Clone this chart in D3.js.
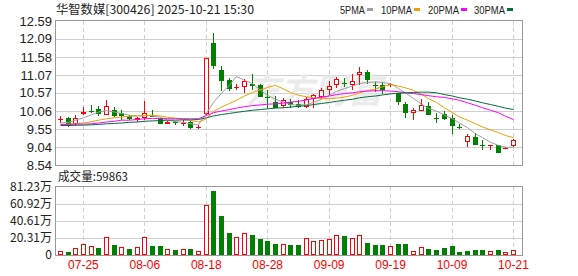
<!DOCTYPE html>
<html>
<head>
<meta charset="utf-8">
<script src="https://cdn.jsdelivr.net/npm/d3@7"></script>
<style>
  body { margin: 0; background: #fff; }
  svg { display: block; }
</style>
</head>
<body>
<div id="chart"></div>
<script>
// trading days shown (MM-DD)
var dates = ["07-22","07-23","07-24","07-25","07-28","07-29","07-30","07-31","08-01","08-04",
  "08-05","08-06","08-07","08-08","08-11","08-12","08-13","08-14","08-15","08-18",
  "08-19","08-20","08-21","08-22","08-25","08-26","08-27","08-28","08-29","09-01",
  "09-02","09-03","09-04","09-05","09-08","09-09","09-10","09-11","09-12","09-15",
  "09-16","09-17","09-18","09-19","09-22","09-23","09-24","09-25","09-26","09-29",
  "09-30","10-09","10-10","10-13","10-14","10-15","10-16","10-17","10-20","10-21"];

var opens = [9.80,9.85,9.68,9.98,10.07,10.11,9.96,10.10,10.00,9.91,
  9.80,9.86,9.93,9.84,9.70,9.75,9.72,9.74,9.60,9.98,
  11.96,11.21,10.93,10.72,10.72,10.81,10.78,10.44,10.31,10.20,
  10.31,10.25,10.17,10.39,10.45,10.66,10.78,10.84,10.78,11.07,
  11.16,10.80,10.80,10.80,10.57,10.25,10.01,10.06,10.19,9.87,
  9.98,9.87,9.60,9.18,9.34,9.10,9.08,9.09,9.01,9.07];

var highs = [9.91,9.88,9.94,10.17,10.22,10.19,10.36,10.17,10.08,9.95,
  9.88,10.34,10.08,9.87,9.77,9.79,9.80,9.78,9.66,11.54,
  12.24,11.33,10.99,10.82,10.97,11.09,10.82,10.64,10.47,10.43,
  10.40,10.38,10.45,10.55,10.70,10.90,11.01,11.00,11.09,11.30,
  11.22,10.88,10.88,10.86,10.57,10.31,10.15,10.39,10.31,10.00,
  10.05,9.94,9.69,9.40,9.45,9.25,9.11,9.09,9.04,9.28];

var lows = [9.73,9.60,9.65,9.94,10.00,9.92,9.94,9.89,9.80,9.80,
  9.74,9.80,9.89,9.68,9.68,9.66,9.64,9.56,9.55,9.95,
  11.25,10.62,10.63,10.66,10.57,10.64,10.45,10.13,10.13,10.13,
  10.13,10.13,10.13,10.14,10.39,10.52,10.70,10.72,10.64,10.78,
  10.83,10.60,10.55,10.74,10.22,9.86,9.80,10.06,9.94,9.72,
  9.80,9.40,9.54,9.04,9.09,8.97,8.96,8.88,8.99,9.04];

var closes = [9.82,9.65,9.87,10.03,10.05,9.97,10.19,9.91,9.93,9.83,
  9.87,10.01,9.90,9.70,9.75,9.71,9.73,9.59,9.62,11.54,
  11.33,10.91,10.67,10.74,10.90,10.76,10.45,10.42,10.15,10.38,
  10.22,10.17,10.39,10.50,10.64,10.75,10.97,10.82,10.90,11.16,
  10.92,10.77,10.64,10.82,10.31,10.00,10.08,10.24,9.94,9.85,
  9.83,9.64,9.58,9.35,9.09,9.08,9.10,8.88,9.03,9.23];

// volume in 万 shares
var volumes = [4.8,4.0,8.4,13.1,10.7,8.4,21.5,12.3,9.6,7.2,
  9.6,21.5,11.1,11.1,7.2,6.0,7.2,7.2,4.8,59.7,
  76.4,47.0,26.7,21.5,26.3,23.9,19.1,16.7,13.1,13.1,
  11.9,11.9,19.9,16.3,17.5,18.7,23.5,22.7,19.9,23.5,
  13.9,11.9,11.9,10.3,13.1,13.1,5.2,9.2,7.2,6.0,
  8.4,10.7,3.6,4.8,6.0,6.0,4.4,6.0,3.2,5.99];

// moving averages
var ma5 = [9.72,9.74,9.80,9.87,9.95,10.03,10.07,10.03,9.99,9.94,
  9.92,9.93,9.92,9.88,9.80,9.76,9.74,9.70,9.67,10.00,
  10.30,10.56,10.78,11.03,10.92,10.83,10.64,10.50,10.39,10.31,
  10.24,10.22,10.24,10.30,10.39,10.50,10.61,10.69,10.76,10.83,
  10.86,10.88,10.86,10.83,10.69,10.57,10.41,10.25,10.13,10.06,
  9.94,9.84,9.72,9.59,9.42,9.31,9.18,9.09,9.04,9.04];

var ma10 = [9.68,9.69,9.70,9.72,9.76,9.80,9.84,9.87,9.89,9.91,
  9.92,9.93,9.94,9.92,9.88,9.86,9.82,9.79,9.75,9.84,
  10.05,10.17,10.27,10.36,10.48,10.58,10.66,10.72,10.78,10.68,
  10.58,10.50,10.46,10.43,10.41,10.41,10.42,10.45,10.50,10.57,
  10.63,10.68,10.74,10.80,10.76,10.71,10.64,10.53,10.41,10.30,
  10.15,10.01,9.89,9.80,9.70,9.61,9.53,9.45,9.37,9.31];

var ma20 = [9.68,9.68,9.69,9.69,9.70,9.72,9.75,9.77,9.80,9.80,
  9.82,9.84,9.85,9.85,9.84,9.84,9.84,9.84,9.84,9.93,
  10.01,10.06,10.10,10.14,10.18,10.21,10.23,10.25,10.26,10.28,
  10.31,10.33,10.37,10.41,10.45,10.48,10.52,10.55,10.57,10.60,
  10.62,10.63,10.63,10.62,10.60,10.57,10.55,10.52,10.49,10.46,
  10.44,10.40,10.36,10.29,10.22,10.15,10.08,10.01,9.91,9.82];

var ma30 = [9.65,9.65,9.66,9.66,9.67,9.68,9.70,9.71,9.72,9.74,
  9.75,9.77,9.78,9.79,9.80,9.80,9.81,9.81,9.82,9.87,
  9.92,9.96,9.99,10.02,10.05,10.08,10.10,10.12,10.14,10.15,
  10.17,10.19,10.21,10.24,10.27,10.30,10.33,10.36,10.39,10.43,
  10.46,10.48,10.51,10.54,10.56,10.57,10.58,10.59,10.59,10.57,
  10.52,10.48,10.43,10.39,10.34,10.29,10.24,10.19,10.14,10.10];

var priceTicks = [8.54, 9.04, 9.55, 10.06, 10.57, 11.07, 11.58, 12.09, 12.59];
var volTicks = [0, 20.31, 40.61, 60.92, 81.23];
var dateTicks = ["07-25", "08-06", "08-18", "08-28", "09-09", "09-19", "10-09", "10-21"];

var titleText = "华智数媒[300426] 2025-10-21 15:30";
var lastVolume = 59863;
var maNames = ["5PMA", "10PMA", "20PMA", "30PMA"];
var maColors = ["#a0a0a0", "#f0a000", "#ff00ff", "#006f3a"];

var svgWidth = 578;
var svgHeight = 276;

var plotLeft = 55.5, plotRight = 522.5;
var priceTop = 21, priceBottom = 165;
var volTop = 187, volBottom = 255;

var upColor = "#ff0000";
var downColor = "#008000";
var gridColor = "#cfcfcf";
var labelFont = "'Liberation Sans', Arial, sans-serif";
var cjkFont = "'Noto Sans CJK SC', 'Liberation Sans', sans-serif";

var svg = d3.select("#chart")
  .append("svg")
  .attr("width", svgWidth)
  .attr("height", svgHeight);

// scales
var xScale = d3.scaleBand().domain(dates).range([56.5, 517.3]);
var yPrice = d3.scaleLinear().domain([8.54, 12.59]).range([priceBottom, priceTop]);
var yVol = d3.scaleLinear().domain([0, 81.23]).range([volBottom, volTop]);

function cx(d) {
  return Math.floor(xScale(d) + xScale.step() / 2) + 0.5;
}
function py(v) { return Math.round(yPrice(v)) + 0.5; }

// ---------- header ----------
svg.append("text")
  .attr("x", 56)
  .attr("y", 14)
  .attr("textLength", 198)
  .attr("lengthAdjust", "spacingAndGlyphs")
  .style("font-family", cjkFont)
  .style("font-size", "12px")
  .style("fill", "#222")
  .text(titleText);

var legendX = [340, 381, 428, 474];
var legendW = [25, 31, 31, 31];
var legend = svg.append("g");
maNames.forEach(function(name, i) {
  legend.append("text")
    .attr("x", legendX[i])
    .attr("y", 13.5)
    .attr("textLength", legendW[i])
    .attr("lengthAdjust", "spacingAndGlyphs")
    .style("font-family", labelFont)
    .style("font-size", "11px")
    .style("fill", "#222")
    .text(name);
  legend.append("rect")
    .attr("x", legendX[i] + legendW[i] + 2)
    .attr("y", 8)
    .attr("width", 6)
    .attr("height", 3)
    .style("fill", maColors[i]);
});

// ---------- price panel ----------
var priceGrid = svg.append("g");
priceGrid.selectAll("line.h")
  .data(priceTicks.slice(1, -1))
  .enter()
  .append("line")
  .attr("x1", plotLeft).attr("x2", plotRight)
  .attr("y1", d => py(d)).attr("y2", d => py(d))
  .style("stroke", gridColor);

priceGrid.selectAll("line.v")
  .data(dateTicks)
  .enter()
  .append("line")
  .attr("x1", d => cx(d)).attr("x2", d => cx(d))
  .attr("y1", priceTop).attr("y2", priceBottom)
  .style("stroke", gridColor)
  .style("stroke-dasharray", "4,3");

// faint watermark
svg.append("text")
  .attr("x", 246)
  .attr("y", 103)
  .style("font-family", cjkFont)
  .style("font-size", "34px")
  .style("font-weight", "bold")
  .style("font-style", "italic")
  .style("fill", "#ebebeb")
  .text("东方财富");

// price axis labels
var leftAxis = d3.axisLeft(yPrice)
  .tickValues(priceTicks)
  .tickSize(0)
  .tickPadding(0)
  .tickFormat(d3.format(".2f"));

svg.append("g")
  .attr("transform", "translate(52,0)")
  .call(leftAxis)
  .call(g => g.select(".domain").remove())
  .selectAll("text")
  .style("font-family", labelFont)
  .style("font-size", "13px")
  .style("fill", "#222");

// candles
var idx = d3.range(dates.length);
var candleGroup = svg.append("g");

candleGroup.selectAll("line.wick")
  .data(idx)
  .enter()
  .append("line")
  .attr("x1", i => cx(dates[i])).attr("x2", i => cx(dates[i]))
  .attr("y1", i => Math.round(yPrice(highs[i])))
  .attr("y2", i => Math.round(yPrice(lows[i])))
  .style("stroke", i => closes[i] >= opens[i] ? upColor : downColor);

candleGroup.selectAll("rect.body")
  .data(idx)
  .enter()
  .append("rect")
  .each(function(i) {
    var up = closes[i] >= opens[i];
    var top = Math.round(yPrice(Math.max(opens[i], closes[i])));
    var bot = Math.round(yPrice(Math.min(opens[i], closes[i])));
    var h = bot - top;
    var sel = d3.select(this);
    if (up && h >= 2) {
      sel.attr("x", cx(dates[i]) - 2).attr("y", top + 0.5)
        .attr("width", 4).attr("height", h - 1)
        .style("fill", "#fff").style("stroke", upColor);
    } else {
      sel.attr("x", cx(dates[i]) - 2.5).attr("y", top)
        .attr("width", 5).attr("height", Math.max(h, 1))
        .style("fill", up ? upColor : downColor);
    }
  });

// moving average lines
[ma5, ma10, ma20, ma30].forEach(function(series, k) {
  var line = d3.line()
    .x((v, i) => cx(dates[i]))
    .y(v => yPrice(v));
  svg.append("path")
    .datum(series)
    .attr("d", line)
    .style("fill", "none")
    .style("stroke", maColors[k])
    .style("stroke-width", 1);
});

// price frame
svg.append("rect")
  .attr("x", plotLeft).attr("y", priceTop - 0.5)
  .attr("width", plotRight - plotLeft).attr("height", priceBottom - priceTop + 1)
  .style("fill", "none")
  .style("stroke", "#999");

// ---------- volume panel ----------
svg.append("text")
  .attr("x", 58)
  .attr("y", 181)
  .attr("textLength", 70)
  .attr("lengthAdjust", "spacingAndGlyphs")
  .style("font-family", cjkFont)
  .style("font-size", "12px")
  .style("fill", "#222")
  .text("成交量:" + lastVolume);

var volGrid = svg.append("g");
volGrid.selectAll("line.h")
  .data(volTicks.slice(1, -1))
  .enter()
  .append("line")
  .attr("x1", plotLeft).attr("x2", plotRight)
  .attr("y1", d => Math.round(yVol(d)) + 0.5).attr("y2", d => Math.round(yVol(d)) + 0.5)
  .style("stroke", gridColor);

volGrid.selectAll("line.v")
  .data(dateTicks)
  .enter()
  .append("line")
  .attr("x1", d => cx(d)).attr("x2", d => cx(d))
  .attr("y1", volTop).attr("y2", volBottom)
  .style("stroke", gridColor)
  .style("stroke-dasharray", "4,3");

var volAxis = d3.axisLeft(yVol)
  .tickValues(volTicks)
  .tickSize(0)
  .tickPadding(0)
  .tickFormat(d => d === 0 ? "0" : d3.format(".2f")(d) + "万");

svg.append("g")
  .attr("transform", "translate(52,0)")
  .call(volAxis)
  .call(g => g.select(".domain").remove())
  .selectAll("text")
  .style("font-family", cjkFont)
  .style("font-size", "12px")
  .style("fill", "#222");

svg.append("g").selectAll("rect")
  .data(idx)
  .enter()
  .append("rect")
  .each(function(i) {
    var up = closes[i] >= (i > 0 ? closes[i - 1] : opens[i]);
    var top = Math.round(yVol(volumes[i]));
    var sel = d3.select(this);
    if (up) {
      sel.attr("x", cx(dates[i]) - 2).attr("y", top + 0.5)
        .attr("width", 4).attr("height", volBottom - top - 1)
        .style("fill", "#fff").style("stroke", upColor);
    } else {
      sel.attr("x", cx(dates[i]) - 2.5).attr("y", top)
        .attr("width", 5).attr("height", volBottom - top)
        .style("fill", downColor);
    }
  });

svg.append("rect")
  .attr("x", plotLeft).attr("y", volTop - 0.5)
  .attr("width", plotRight - plotLeft).attr("height", volBottom - volTop + 1)
  .style("fill", "none")
  .style("stroke", "#999");

// date axis
var bottomAxis = d3.axisBottom(xScale)
  .tickValues(dateTicks)
  .tickSize(0)
  .tickPadding(0);

svg.append("g")
  .attr("transform", "translate(0,260)")
  .call(bottomAxis)
  .call(g => g.select(".domain").remove())
  .selectAll("text")
  .style("font-family", labelFont)
  .style("font-size", "12px")
  .style("fill", upColor);
</script>
</body>
</html>
